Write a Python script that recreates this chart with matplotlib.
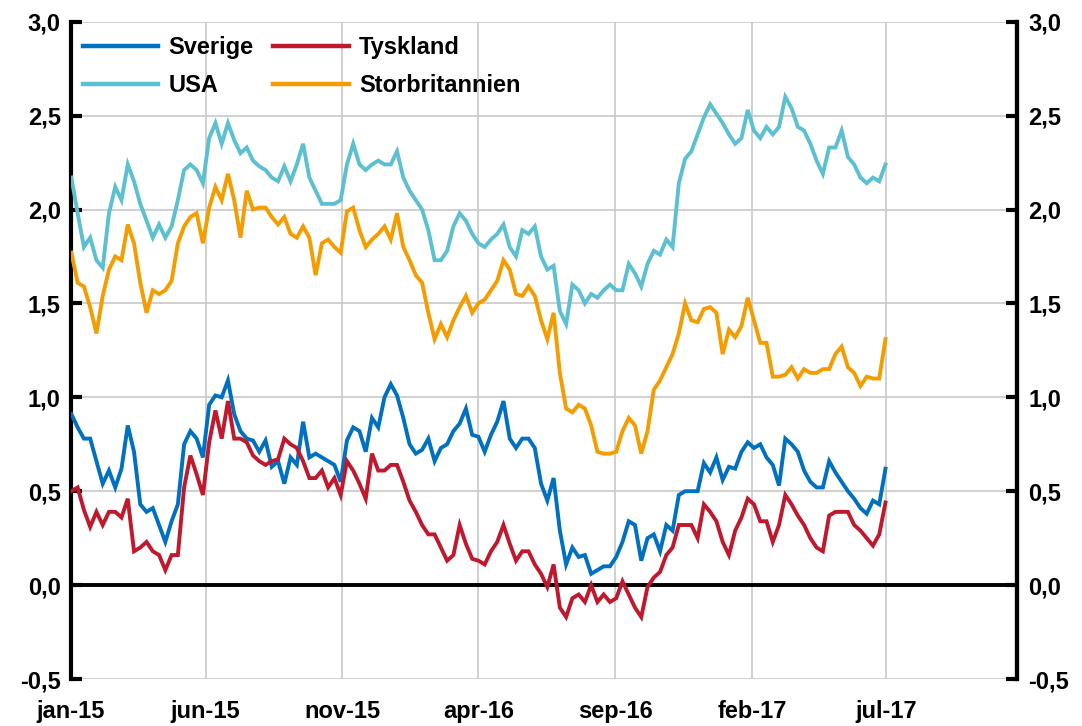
import matplotlib
matplotlib.use("Agg")
import matplotlib.pyplot as plt
import numpy as np
import pandas as pd

start_date = "2015-01-02"

sverige = [0.91, 0.84, 0.78, 0.78, 0.66, 0.54, 0.61, 0.52, 0.62, 0.85,
           0.71, 0.43, 0.39, 0.41, 0.32, 0.23, 0.34, 0.43, 0.75, 0.82,
           0.78, 0.68, 0.96, 1.01, 1.00, 1.09, 0.91, 0.82, 0.78, 0.77,
           0.71, 0.77, 0.63, 0.66, 0.54, 0.68, 0.64, 0.87, 0.68, 0.70,
           0.68, 0.66, 0.64, 0.55, 0.77, 0.84, 0.82, 0.71, 0.89, 0.84,
           1.00, 1.07, 1.01, 0.89, 0.75, 0.70, 0.72, 0.78, 0.66, 0.73,
           0.75, 0.82, 0.86, 0.94, 0.80, 0.79, 0.71, 0.80, 0.87, 0.98,
           0.78, 0.73, 0.78, 0.78, 0.73, 0.54, 0.45, 0.57, 0.29, 0.11,
           0.20, 0.15, 0.16, 0.06, 0.08, 0.10, 0.10, 0.15, 0.23, 0.34,
           0.32, 0.13, 0.25, 0.27, 0.18, 0.32, 0.29, 0.48, 0.50, 0.50,
           0.50, 0.65, 0.60, 0.68, 0.56, 0.63, 0.62, 0.71, 0.76, 0.73,
           0.75, 0.68, 0.64, 0.53, 0.78, 0.75, 0.71, 0.61, 0.55, 0.52,
           0.52, 0.66, 0.60, 0.55, 0.50, 0.46, 0.41, 0.38, 0.45, 0.43,
           0.62]

tyskland = [0.50, 0.52, 0.40, 0.31, 0.39, 0.32, 0.39, 0.39, 0.36, 0.46,
            0.18, 0.20, 0.23, 0.18, 0.16, 0.08, 0.16, 0.16, 0.52, 0.69,
            0.59, 0.48, 0.76, 0.93, 0.78, 0.98, 0.78, 0.78, 0.76, 0.69,
            0.66, 0.64, 0.66, 0.67, 0.78, 0.75, 0.73, 0.66, 0.57, 0.57,
            0.61, 0.52, 0.57, 0.48, 0.66, 0.61, 0.54, 0.46, 0.70, 0.61,
            0.61, 0.64, 0.64, 0.55, 0.45, 0.39, 0.32, 0.27, 0.27, 0.20,
            0.13, 0.16, 0.32, 0.22, 0.14, 0.13, 0.11, 0.18, 0.23, 0.32,
            0.22, 0.13, 0.18, 0.18, 0.11, 0.06, -0.01, 0.11, -0.12, -0.17,
            -0.07, -0.05, -0.09, 0.00, -0.09, -0.05, -0.09, -0.07, 0.02, -0.05,
            -0.12, -0.17, -0.01, 0.04, 0.07, 0.16, 0.20, 0.32, 0.32, 0.32,
            0.25, 0.43, 0.39, 0.34, 0.23, 0.16, 0.29, 0.36, 0.46, 0.43,
            0.34, 0.34, 0.23, 0.32, 0.48, 0.43, 0.37, 0.32, 0.25, 0.20,
            0.18, 0.37, 0.39, 0.39, 0.39, 0.32, 0.29, 0.25, 0.21, 0.27,
            0.44]

usa = [2.17, 1.98, 1.80, 1.85, 1.73, 1.69, 1.98, 2.12, 2.05, 2.24,
       2.15, 2.03, 1.94, 1.85, 1.92, 1.85, 1.91, 2.05, 2.21, 2.24,
       2.21, 2.14, 2.38, 2.46, 2.35, 2.46, 2.37, 2.30, 2.33, 2.26,
       2.23, 2.21, 2.17, 2.15, 2.23, 2.15, 2.24, 2.35, 2.17, 2.10,
       2.03, 2.03, 2.03, 2.05, 2.24, 2.35, 2.24, 2.21, 2.24, 2.26,
       2.24, 2.24, 2.31, 2.17, 2.10, 2.05, 2.00, 1.89, 1.73, 1.73,
       1.78, 1.91, 1.98, 1.94, 1.87, 1.82, 1.80, 1.84, 1.87, 1.92,
       1.80, 1.75, 1.89, 1.87, 1.91, 1.75, 1.68, 1.70, 1.46, 1.39,
       1.60, 1.57, 1.50, 1.55, 1.53, 1.57, 1.60, 1.57, 1.57, 1.71,
       1.66, 1.59, 1.71, 1.78, 1.76, 1.84, 1.80, 2.14, 2.27, 2.31,
       2.40, 2.49, 2.56, 2.51, 2.46, 2.40, 2.35, 2.38, 2.53, 2.42,
       2.38, 2.44, 2.40, 2.44, 2.60, 2.54, 2.44, 2.42, 2.35, 2.26,
       2.19, 2.33, 2.33, 2.42, 2.28, 2.24, 2.17, 2.14, 2.17, 2.15,
       2.24]

storbritannien = [1.77, 1.61, 1.59, 1.48, 1.34, 1.54, 1.68, 1.75, 1.73, 1.92,
                  1.82, 1.61, 1.45, 1.57, 1.55, 1.57, 1.62, 1.82, 1.91, 1.96,
                  1.98, 1.82, 2.01, 2.12, 2.05, 2.19, 2.05, 1.85, 2.10, 2.00,
                  2.01, 2.01, 1.96, 1.92, 1.96, 1.87, 1.85, 1.91, 1.85, 1.65,
                  1.82, 1.84, 1.80, 1.77, 1.99, 2.01, 1.89, 1.80, 1.84, 1.87,
                  1.91, 1.84, 1.98, 1.80, 1.73, 1.65, 1.61, 1.45, 1.31, 1.39,
                  1.32, 1.41, 1.48, 1.54, 1.45, 1.50, 1.52, 1.57, 1.62, 1.73,
                  1.68, 1.55, 1.54, 1.59, 1.54, 1.41, 1.31, 1.45, 1.13, 0.94,
                  0.92, 0.96, 0.94, 0.85, 0.71, 0.70, 0.70, 0.71, 0.82, 0.89,
                  0.85, 0.70, 0.82, 1.04, 1.09, 1.16, 1.23, 1.34, 1.50, 1.41,
                  1.40, 1.47, 1.48, 1.45, 1.23, 1.36, 1.32, 1.38, 1.53, 1.41,
                  1.29, 1.29, 1.11, 1.11, 1.12, 1.16, 1.10, 1.15, 1.13, 1.13,
                  1.15, 1.15, 1.23, 1.27, 1.16, 1.13, 1.06, 1.11, 1.10, 1.10,
                  1.31]

tick_dates = ["2015-01-01", "2015-06-01", "2015-11-01", "2016-04-01",
              "2016-09-01", "2017-02-01", "2017-07-01"]
tick_labels = ["jan-15", "jun-15", "nov-15", "apr-16", "sep-16", "feb-17", "jul-17"]
y_ticks = [-0.5, 0.0, 0.5, 1.0, 1.5, 2.0, 2.5, 3.0]

series_names = ["Sverige", "Tyskland", "USA", "Storbritannien"]
colors = ["#0070C0", "#C0182C", "#5BC0D0", "#F59C00"]

# ---- figure ----
plt.rcParams['font.family'] = ['Liberation Sans', 'DejaVu Sans']
FS = 17
FW = 'bold'

fig = plt.figure(figsize=(10.82, 7.26), dpi=100)
ax = fig.add_axes([70.5 / 1082, 47 / 726, 946.5 / 1082, 657.3 / 726])

dates = pd.date_range(start_date, periods=len(sverige), freq="7D")
data = [sverige, tyskland, usa, storbritannien]
handles = {}
for name, vals, c in zip(series_names, data, colors):
    handles[name], = ax.plot(dates, vals, color=c, lw=2.8, label=name,
                             solid_joinstyle='miter', zorder=3)

ax.set_ylim(-0.5, 3.0)
ax.set_xlim(pd.Timestamp("2015-01-01"), pd.Timestamp("2017-11-24"))

tdates = [pd.Timestamp(d) for d in tick_dates]
ax.set_xticks(tdates)
ax.set_xticklabels(tick_labels, fontsize=FS, fontweight=FW)
ax.set_yticks(y_ticks)
ylabels = [f"{v:.1f}".replace(".", ",") for v in y_ticks]
ax.set_yticklabels(ylabels, fontsize=FS, fontweight=FW)

ax.grid(True, color="#C8C8C8", lw=1.2, zorder=0)
ax.set_axisbelow(True)
ax.axhline(0, color="black", lw=2.8, zorder=2)

for s in ["top", "bottom"]:
    ax.spines[s].set_visible(False)
ax.spines["left"].set_linewidth(3)
ax.spines["right"].set_linewidth(3)
ax.tick_params(axis='y', direction='in', length=8, width=3, pad=7, colors='black')
ax.tick_params(axis='x', length=0, pad=15)

ax2 = ax.twinx()
ax2.set_ylim(-0.5, 3.0)
ax2.set_yticks(y_ticks)
ax2.set_yticklabels(ylabels, fontsize=FS, fontweight=FW)
for s in ["top", "bottom", "left"]:
    ax2.spines[s].set_visible(False)
ax2.spines["right"].set_linewidth(3)
ax2.tick_params(axis='y', direction='in', length=8, width=3, pad=8)

order = ["Sverige", "USA", "Tyskland", "Storbritannien"]
leg = ax.legend([handles[n] for n in order], order,
                loc="upper left", bbox_to_anchor=(0.008, 0.985), ncol=2,
                frameon=False, prop={'size': FS, 'weight': FW},
                handlelength=3.2, handletextpad=0.42, columnspacing=0.85,
                labelspacing=0.62, borderpad=0.2, borderaxespad=0)
for line in leg.get_lines():
    line.set_linewidth(3.2)

fig.savefig("out.png", dpi=100)
